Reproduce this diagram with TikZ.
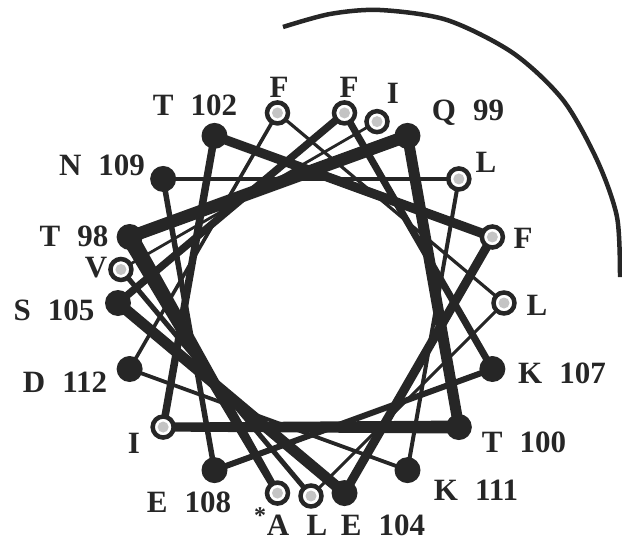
\documentclass[tikz,border=0pt]{standalone}
\usepackage{fontspec}
\setmainfont{Liberation Serif}
\usetikzlibrary{calc}
\definecolor{ink}{HTML}{262626}
\definecolor{core}{HTML}{C4C4C4}
\newcommand{\lgap}{\hspace{0.55em}}
% tapered connector: from #1 (half width #3) to #2 (half width #4)
\newcommand{\taper}[4]{\fill[ink] ($(#1)!#3!90:(#2)$) -- ($(#2)!#4!-90:(#1)$) -- ($(#2)!#4!90:(#1)$) -- ($(#1)!#3!-90:(#2)$) -- cycle;}
\begin{document}
\begin{tikzpicture}[x=1pt,y=-1pt,
  chord/.style={draw=ink,line cap=round,line join=round},
  hydrophil/.style={circle,fill=ink,minimum size=26pt,inner sep=0pt},
  hydrophob/.style={circle,draw=ink,line width=4.5pt,fill=white,minimum size=21pt,inner sep=0pt,
     path picture={\fill[core] (path picture bounding box.center) circle (5.5pt);}},
  lab/.style={font=\bfseries\fontsize{31}{31}\selectfont,text=ink,inner sep=0pt,anchor=base}
]
\useasboundingbox (0,0) rectangle (622,541);
\coordinate (c) at (311,303);
% residue positions on the wheel
\foreach \n/\ang in {97/260,98/160,99/60,100/320,101/220,102/120,103/20,104/280,105/180,
  106/80,107/340,108/240,109/140,110/40,111/300,112/200,113/100,114/0,115/270,116/170,117/70}
  \coordinate (p\n) at ($(c)+(\ang:193pt)$);
% connectors
\taper{p97}{p98}{3.5pt}{8.5pt}
\taper{p100}{p101}{6.5pt}{4.5pt}
\foreach \a/\b/\w in {98/99/12.5,99/100/11,101/102/7.5,102/103/9.5,103/104/9,
  104/105/11,105/106/7.5,106/107/7,107/108/6,108/109/5.5,109/110/4.2,110/111/4,111/112/3.8,
  112/113/3.6,113/114/3.2,114/115/3,115/116/5,116/117/2.8}
  \draw[chord,line width=\w pt] (p\a) -- (p\b);
% residues
\foreach \n/\s in {97/hydrophob,98/hydrophil,99/hydrophil,100/hydrophil,101/hydrophob,102/hydrophil,
  103/hydrophob,104/hydrophil,105/hydrophil,106/hydrophob,107/hydrophil,108/hydrophil,109/hydrophil,
  110/hydrophob,111/hydrophil,112/hydrophil,113/hydrophob,114/hydrophob,115/hydrophob,116/hydrophob,117/hydrophob}
  \node[\s] (r\n) at (p\n) {};
% labels
\node[lab] (l102) at (195,115) {T\lgap 102};
\node[lab] (l113) at (279,97) {F};
\node[lab] (l106) at (349,97) {F};
\node[lab] (l117) at (393,103) {I};
\node[lab] (l99) at (468,120) {Q\lgap 99};
\node[lab] (l110) at (486,172) {L};
\node[lab] (l103) at (523,248) {F};
\node[lab] (l114) at (537,315) {L};
\node[lab] (l107) at (562,383) {K\lgap 107};
\node[lab] (l100) at (524,452) {T\lgap 100};
\node[lab] (l111) at (476,500) {K\lgap 111};
\node[lab] (l104) at (383,535) {E\lgap 104};
\node[lab] (l115) at (317,535) {L};
\node[lab] (l97) at (278,535) {A};
\node[lab,font=\bfseries\fontsize{24}{24}\selectfont] (ast) at (260,523) {*};
\node[lab] (l108) at (189,512) {E\lgap 108};
\node[lab] (l101) at (134,453) {I};
\node[lab] (l112) at (65,392) {D\lgap 112};
\node[lab] (l105) at (54,320) {S\lgap 105};
\node[lab] (l116) at (96,277) {V};
\node[lab] (l98) at (74,246) {T\lgap 98};
\node[lab] (l109) at (102,175) {N\lgap 109};
% outer arc
\draw[ink,line width=4.5pt] plot[smooth] coordinates {(283,27) (330,14) (380,10) (447,20) (513,53) (563,100) (597,160) (617,217) (620,277)};
\end{tikzpicture}
\end{document}
